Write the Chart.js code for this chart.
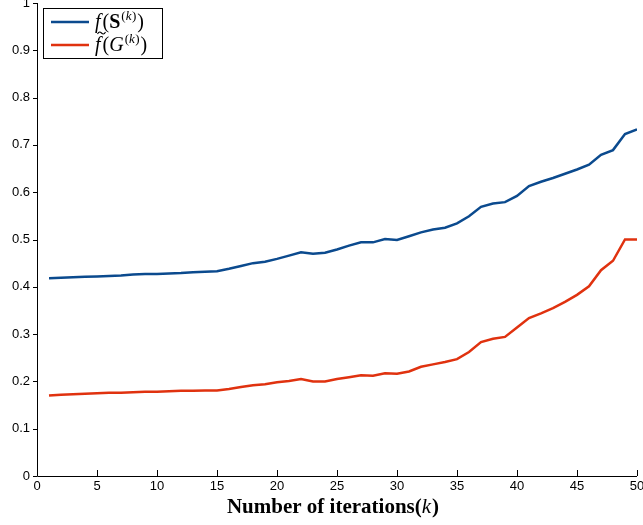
<!DOCTYPE html>
<html>
<head>
<meta charset="utf-8">
<script src="https://cdn.jsdelivr.net/npm/chart.js@4.4.1/dist/chart.umd.min.js"></script>
<style>
html,body{margin:0;padding:0;background:#fff;}
#wrap{width:643px;height:525px;position:relative;}
</style>
</head>
<body>
<div id="wrap"><canvas id="c" width="643" height="525"></canvas></div>
<script>
const iterations = [1,2,3,4,5,6,7,8,9,10,11,12,13,14,15,16,17,18,19,20,21,22,23,24,25,26,27,28,29,30,31,32,33,34,35,36,37,38,39,40,41,42,43,44,45,46,47,48,49,50];
const fS = [0.418,0.419,0.420,0.421,0.422,0.423,0.424,0.426,0.427,0.427,0.428,0.429,0.431,0.432,0.433,
            0.438,0.444,0.450,0.453,0.459,0.466,0.473,0.470,0.472,0.479,0.487,0.494,0.494,0.501,0.499,
            0.507,0.515,0.521,0.525,0.534,0.549,0.569,0.576,0.579,0.592,0.613,0.622,0.630,0.639,0.648,
            0.658,0.679,0.689,0.723,0.733];
const fG = [0.170,0.172,0.173,0.174,0.175,0.176,0.176,0.177,0.178,0.178,0.179,0.180,0.180,0.181,0.181,
            0.184,0.188,0.192,0.194,0.198,0.201,0.205,0.200,0.200,0.205,0.209,0.213,0.212,0.217,0.216,
            0.221,0.231,0.236,0.241,0.247,0.262,0.283,0.290,0.294,0.314,0.334,0.344,0.355,0.368,0.383,
            0.401,0.435,0.455,0.500,0.500];
const xTicks = [0,5,10,15,20,25,30,35,40,45,50];
const yTicks = [0,0.1,0.2,0.3,0.4,0.5,0.6,0.7,0.8,0.9,1];
const seriesColors = ['#0b4a8e', '#e0320f'];

const toPts = (ys) => iterations.map((k, i) => ({x: k, y: ys[i]}));

const axesPlugin = {
  id: 'axesPlugin',
  afterDraw(chart) {
    const ctx = chart.ctx;
    const xs = chart.scales.x, ys = chart.scales.y;
    const a = chart.chartArea;
    ctx.save();
    ctx.strokeStyle = '#000';
    ctx.lineWidth = 1;
    ctx.beginPath();
    ctx.moveTo(Math.round(a.left) + 0.5, a.top);
    ctx.lineTo(Math.round(a.left) + 0.5, Math.round(a.bottom) + 0.5);
    ctx.lineTo(a.right, Math.round(a.bottom) + 0.5);
    ctx.stroke();
    ctx.beginPath();
    xTicks.forEach(v => {
      const px = Math.round(xs.getPixelForValue(v)) + 0.5;
      ctx.moveTo(px, Math.round(a.bottom));
      ctx.lineTo(px, Math.round(a.bottom) - 6);
    });
    yTicks.forEach(v => {
      const py = Math.round(ys.getPixelForValue(v)) + 0.5;
      ctx.moveTo(Math.round(a.left) - 4, py);
      ctx.lineTo(Math.round(a.left), py);
    });
    ctx.stroke();

    // x title
    const serif = '"Liberation Serif", "DejaVu Serif", serif';
    const t1 = 'Number of iterations(', t2 = 'k', t3 = ')';
    const fs = 21;
    ctx.fillStyle = '#000';
    ctx.textBaseline = 'alphabetic';
    ctx.font = 'bold ' + fs + 'px ' + serif;
    const w1 = ctx.measureText(t1).width, w3 = ctx.measureText(t3).width;
    ctx.font = 'italic ' + fs + 'px ' + serif;
    const w2 = ctx.measureText(t2).width + 1;
    const total = w1 + w2 + w3;
    let x0 = 333 - total / 2;
    const by = 513;
    ctx.font = 'bold ' + fs + 'px ' + serif; ctx.fillText(t1, x0, by);
    ctx.font = 'italic ' + fs + 'px ' + serif; ctx.fillText(t2, x0 + w1, by);
    ctx.font = 'bold ' + fs + 'px ' + serif; ctx.fillText(t3, x0 + w1 + w2, by);

    // legend
    const lx = 43.5, ly = 8.5, lw = 119, lh = 50;
    ctx.fillStyle = '#fff';
    ctx.fillRect(lx, ly, lw, lh);
    ctx.strokeStyle = '#000';
    ctx.lineWidth = 1;
    ctx.strokeRect(lx, ly, lw, lh);
    const rows = [22, 45];
    chart.data.datasets.forEach((ds, i) => {
      ctx.strokeStyle = ds.borderColor;
      ctx.lineWidth = 2.5;
      ctx.beginPath();
      ctx.moveTo(51, rows[i]);
      ctx.lineTo(89, rows[i]);
      ctx.stroke();
    });
    ctx.fillStyle = '#000';
    const M = 20, S = 13;
    // row 1: f(S^(k))
    let x = 95, b = rows[0] + 6;
    ctx.font = 'italic ' + M + 'px ' + serif; ctx.fillText('f', x, b); x += ctx.measureText('f').width + 2;
    ctx.font = M + 'px ' + serif; ctx.fillText('(', x, b); x += ctx.measureText('(').width;
    ctx.font = 'bold ' + M + 'px ' + serif; ctx.fillText('S', x, b); x += ctx.measureText('S').width + 1;
    ctx.font = S + 'px ' + serif; ctx.fillText('(', x, b - 8); x += ctx.measureText('(').width;
    ctx.font = 'italic ' + S + 'px ' + serif; ctx.fillText('k', x, b - 8); x += ctx.measureText('k').width + 0.5;
    ctx.font = S + 'px ' + serif; ctx.fillText(')', x, b - 8); x += ctx.measureText(')').width + 1;
    ctx.font = M + 'px ' + serif; ctx.fillText(')', x, b);
    // row 2: f~(G^(k))
    x = 95; b = rows[1] + 6;
    ctx.font = 'italic ' + M + 'px ' + serif; ctx.fillText('f', x, b);
    ctx.strokeStyle = '#000'; ctx.lineWidth = 1.1;
    ctx.beginPath();
    const tx = x + 2.5, ty = b - 18.5;
    ctx.moveTo(tx, ty + 1.5);
    ctx.bezierCurveTo(tx + 1.5, ty - 1.5, tx + 3, ty - 0.5, tx + 4, ty + 0.5);
    ctx.bezierCurveTo(tx + 5, ty + 1.5, tx + 6.5, ty + 2.5, tx + 8, ty - 0.5);
    ctx.stroke();
    ctx.font = 'italic ' + M + 'px ' + serif; x += ctx.measureText('f').width + 2;
    ctx.font = M + 'px ' + serif; ctx.fillText('(', x, b); x += ctx.measureText('(').width;
    ctx.font = 'italic ' + M + 'px ' + serif; ctx.fillText('G', x, b); x += ctx.measureText('G').width + 1;
    ctx.font = S + 'px ' + serif; ctx.fillText('(', x, b - 8); x += ctx.measureText('(').width;
    ctx.font = 'italic ' + S + 'px ' + serif; ctx.fillText('k', x, b - 8); x += ctx.measureText('k').width + 0.5;
    ctx.font = S + 'px ' + serif; ctx.fillText(')', x, b - 8); x += ctx.measureText(')').width + 1;
    ctx.font = M + 'px ' + serif; ctx.fillText(')', x, b);
    ctx.restore();
  }
};

new Chart(document.getElementById('c'), {
  type: 'line',
  data: {
    datasets: [
      {label: 'f(S(k))', data: toPts(fS), borderColor: seriesColors[0], borderWidth: 2.5, pointRadius: 0, tension: 0, fill: false},
      {label: 'f~(G(k))', data: toPts(fG), borderColor: seriesColors[1], borderWidth: 2.5, pointRadius: 0, tension: 0, fill: false}
    ]
  },
  options: {
    responsive: false,
    animation: false,
    devicePixelRatio: 1,
    layout: {padding: {top: 3, right: 6, left: 0, bottom: 0}},
    plugins: {legend: {display: false}, tooltip: {enabled: false}},
    scales: {
      x: {
        type: 'linear', min: 0, max: 50,
        afterBuildTicks: (s) => { s.ticks = xTicks.map(v => ({value: v})); },
        afterFit: (s) => { s.height = 49; s.paddingLeft = 0; s.paddingRight = 0; },
        grid: {display: false, drawTicks: false},
        border: {display: false},
        ticks: {color: '#000', font: {family: '"Liberation Sans", Arial, sans-serif', size: 13}, padding: 3, maxRotation: 0, autoSkip: false}
      },
      y: {
        type: 'linear', min: 0, max: 1,
        afterBuildTicks: (s) => { s.ticks = yTicks.map(v => ({value: v})); },
        afterFit: (s) => { s.width = 37; s.paddingTop = 0; s.paddingBottom = 0; },
        grid: {display: false, drawTicks: false},
        border: {display: false},
        ticks: {color: '#000', font: {family: '"Liberation Sans", Arial, sans-serif', size: 13}, padding: 7, callback: (v) => String(v)}
      }
    }
  },
  plugins: [axesPlugin]
});
</script>
</body>
</html>
